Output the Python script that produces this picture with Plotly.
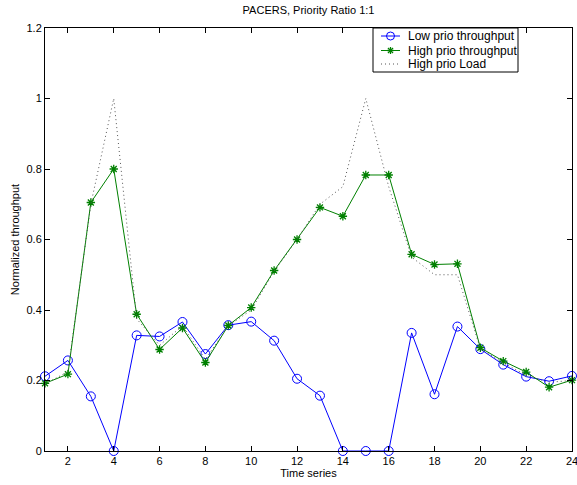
import plotly.graph_objects as go

time_series = list(range(1, 25))
low_prio = [0.212, 0.257, 0.155, 0.0, 0.328, 0.325, 0.366, 0.275, 0.357, 0.367,
            0.313, 0.205, 0.157, 0.0, 0.0, 0.0, 0.335, 0.161, 0.353, 0.289,
            0.245, 0.211, 0.198, 0.213]
high_prio = [0.192, 0.218, 0.705, 0.800, 0.388, 0.288, 0.349, 0.251, 0.356, 0.407,
             0.512, 0.600, 0.691, 0.666, 0.783, 0.783, 0.558, 0.529, 0.531, 0.293,
             0.255, 0.224, 0.181, 0.201]
high_load = [0.19, 0.225, 0.70, 1.0, 0.375, 0.30, 0.355, 0.26, 0.355, 0.40,
             0.51, 0.60, 0.70, 0.75, 1.0, 0.75, 0.55, 0.50, 0.50, 0.29,
             0.25, 0.215, 0.195, 0.20]
series_names = ["Low prio throughput", "High prio throughput", "High prio Load"]
x_ticks = list(range(2, 25, 2))
y_ticks = [0, 0.2, 0.4, 0.6, 0.8, 1.0, 1.2]

FONT = "Liberation Sans, Arial, Helvetica, sans-serif"
W, H = 577, 485
ML, MR, MT, MB = 45, 5, 28, 34
PW, PH = W - ML - MR, H - MT - MB

BLUE, GREEN, GRAY = "#0000ff", "#008000", "#555555"

fig = go.Figure()
fig.add_trace(go.Scatter(
    x=time_series, y=low_prio, name=series_names[0], mode="lines+markers",
    line=dict(color=BLUE, width=1),
    marker=dict(symbol="circle-open", size=9, color=BLUE, line=dict(width=1)),
    cliponaxis=False))
fig.add_trace(go.Scatter(
    x=time_series, y=high_prio, name=series_names[1], mode="lines+markers",
    line=dict(color=GREEN, width=1),
    marker=dict(symbol="asterisk-open", size=7, color=GREEN, line=dict(width=1.3, color=GREEN)),
    cliponaxis=False))
fig.add_trace(go.Scatter(
    x=time_series, y=high_load, name=series_names[2], mode="lines",
    line=dict(color=GRAY, width=1, dash="1px,3px"),
    cliponaxis=False))


# ---- MATLAB-style compact legend built from shapes/annotations (pixel -> paper) ----
def px(xp):
    return (xp - ML) / PW


def py(yp):
    return (H - MB - yp) / PH


shapes, annotations = [], []
shapes.append(dict(type="rect", xref="paper", yref="paper", x0=px(373), x1=px(518),
                   y0=py(72), y1=py(28), line=dict(color="black", width=1),
                   fillcolor="white", layer="above"))
rows = [36, 50.5, 64]
styles = [(BLUE, "solid", "circle"), (GREEN, "solid", "star"), (GRAY, "1px,3px", None)]
for rowy, name, (col, dash, mk) in zip(rows, series_names, styles):
    shapes.append(dict(type="line", xref="paper", yref="paper", x0=px(381), x1=px(400),
                       y0=py(rowy), y1=py(rowy), line=dict(color=col, width=1, dash=dash),
                       layer="above"))
    cx = 390.5
    if mk == "circle":
        r = 4
        shapes.append(dict(type="circle", xref="paper", yref="paper",
                           x0=px(cx - r), x1=px(cx + r), y0=py(rowy + r), y1=py(rowy - r),
                           line=dict(color=col, width=1), layer="above"))
    elif mk == "star":
        r = 3.5
        d = r * 0.72
        for (dx, dy) in [(r, 0), (0, r), (d, d), (d, -d)]:
            shapes.append(dict(type="line", xref="paper", yref="paper",
                               x0=px(cx - dx), x1=px(cx + dx), y0=py(rowy - dy), y1=py(rowy + dy),
                               line=dict(color=col, width=1.3), layer="above"))
    annotations.append(dict(text=name, xref="paper", yref="paper", x=px(406), y=py(rowy),
                            xanchor="left", yanchor="middle", showarrow=False,
                            font=dict(family=FONT, size=12, color="black")))

fig.update_layout(
    width=W, height=H,
    margin=dict(l=ML, r=MR, t=MT, b=MB, autoexpand=False),
    paper_bgcolor="white", plot_bgcolor="white",
    font=dict(family=FONT, size=11, color="black"),
    title=dict(text="PACERS, Priority Ratio 1:1", x=0.5, xref="paper", xanchor="center",
               y=1, yref="container", yanchor="top", pad=dict(t=6),
               font=dict(size=11)),
    showlegend=False,
    shapes=shapes, annotations=annotations,
)
fig.update_xaxes(
    range=[1, 24], tickvals=x_ticks, ticktext=[str(v) for v in x_ticks],
    ticklabeloverflow="allow", automargin=False,
    showgrid=False, zeroline=False, showline=True, linecolor="black", linewidth=1,
    mirror="ticks", ticks="inside", ticklen=5, tickcolor="black",
    title=dict(text="Time series", standoff=2, font=dict(size=11)),
    tickfont=dict(size=11))
fig.update_yaxes(
    range=[0, 1.2], tickvals=y_ticks, ticktext=["0", "0.2", "0.4", "0.6", "0.8", "1", "1.2"],
    ticklabeloverflow="allow", automargin=False,
    showgrid=False, zeroline=False, showline=True, linecolor="black", linewidth=1,
    mirror="ticks", ticks="inside", ticklen=5, tickcolor="black",
    title=dict(text="Normalized throughput", standoff=4, font=dict(size=11)),
    tickfont=dict(size=11))

fig.write_html("out.html")
